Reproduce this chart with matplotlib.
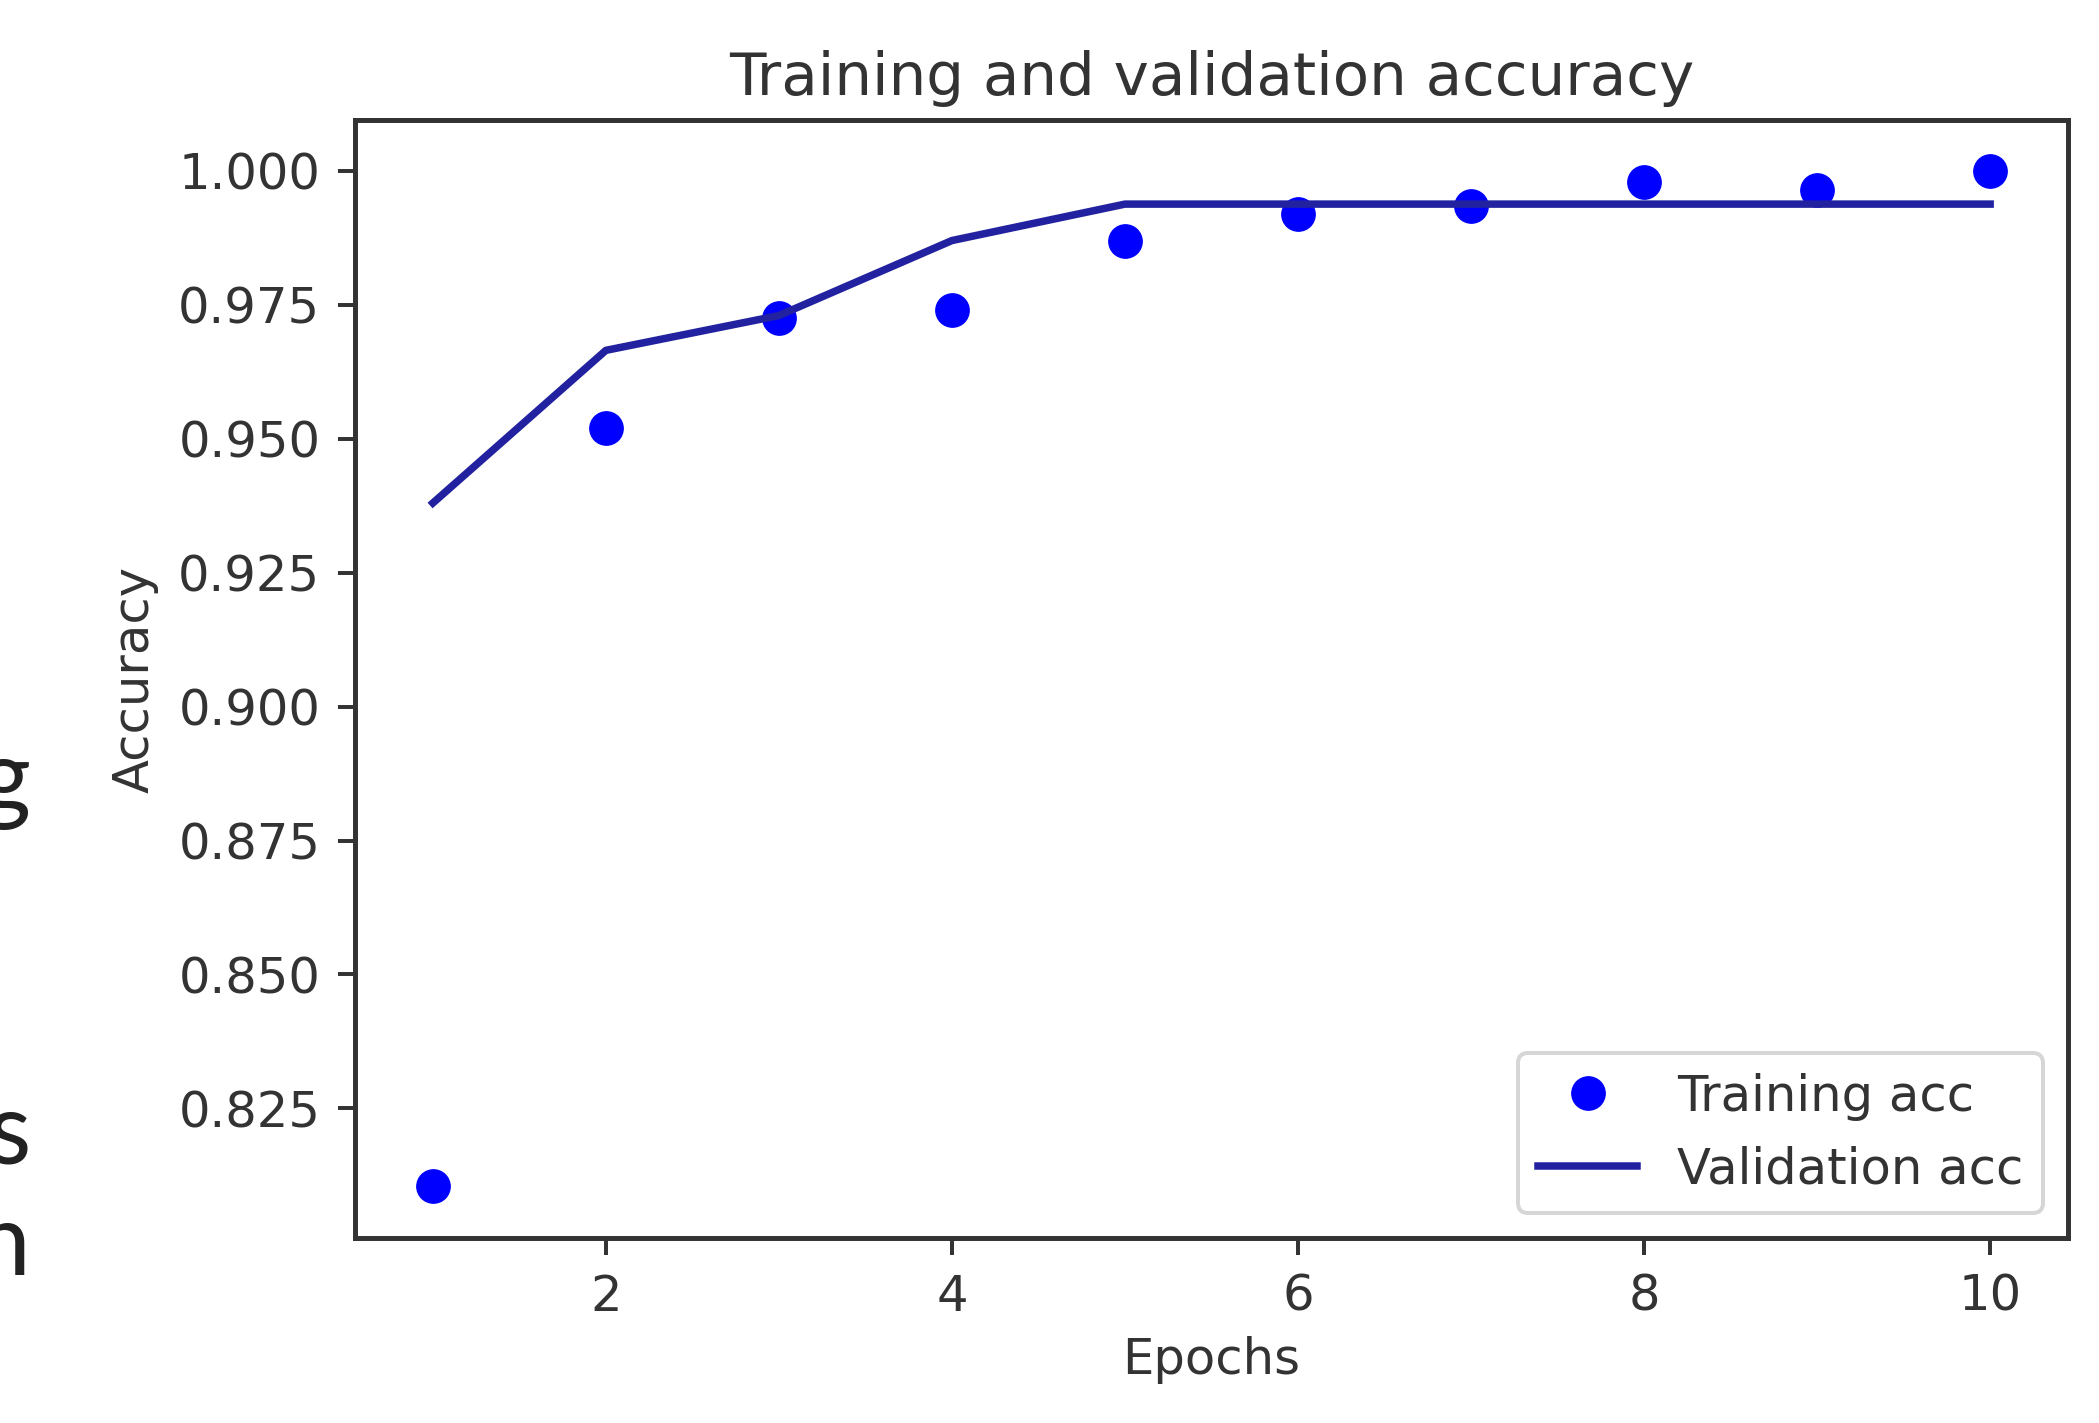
import matplotlib
matplotlib.use("Agg")
import matplotlib.pyplot as plt

# Данные
epochs = [1, 2, 3, 4, 5, 6, 7, 8, 9, 10]
train_acc = [0.8105, 0.952, 0.9725, 0.974, 0.987, 0.992, 0.9935, 0.998, 0.9965, 1.000]
val_acc = [0.938, 0.9665, 0.973, 0.987, 0.9938, 0.9938, 0.9938, 0.9938, 0.9938, 0.9938]
y_ticks = [0.825, 0.850, 0.875, 0.900, 0.925, 0.950, 0.975, 1.000]
x_ticks = [2, 4, 6, 8, 10]

# обрезанные буквы соседнего текста слева
side_letters = ["g", "s", "n"]
side_baselines = [812, 1163, 1275]

W, H = 2099, 1423
s = 3.57  # масштаб относительно стандартных размеров matplotlib
text_color = "#333333"

plt.rcParams["font.family"] = ["DejaVu Sans"]
fig = plt.figure(figsize=(W / 100, H / 100), dpi=100)
ax = fig.add_axes([355 / W, 1 - 1238 / H, (2068 - 355) / W, (1238 - 120) / H])

ax.plot(epochs, train_acc, "o", color="#0000ff", markersize=24, label="Training acc")
ax.plot(epochs, val_acc, "-", color="#2222a0", linewidth=5.4, label="Validation acc")

ax.set_title("Training and validation accuracy", fontsize=12 * s, color=text_color, pad=5 * s)
ax.set_xlabel("Epochs", fontsize=10 * s, color=text_color, labelpad=3 * s)
ax.set_ylabel("Accuracy", fontsize=10 * s, color=text_color, labelpad=4 * s)

ax.set_xticks(x_ticks)
ax.set_yticks(y_ticks)
ax.set_yticklabels([f"{v:.3f}" for v in y_ticks])
ax.set_ylim(0.8008, 1.0095)
ax.tick_params(labelsize=10 * s, colors=text_color, length=3.5 * s, width=0.8 * s, pad=3.5 * s)

for sp in ax.spines.values():
    sp.set_linewidth(1.0 * s)
    sp.set_color("#333333")

leg = ax.legend(loc="lower right", fontsize=10 * s, handlelength=2.0, borderpad=0.4,
                labelspacing=0.5, handletextpad=0.8)
for t in leg.get_texts():
    t.set_color(text_color)
leg.get_frame().set_linewidth(0.8 * s)

for letter, base in zip(side_letters, side_baselines):
    fig.text(31 / W, 1 - base / H, letter, ha="right", va="baseline",
             fontsize=72, family="Lato", color="#222222")

fig.savefig("out.png", dpi=100)
